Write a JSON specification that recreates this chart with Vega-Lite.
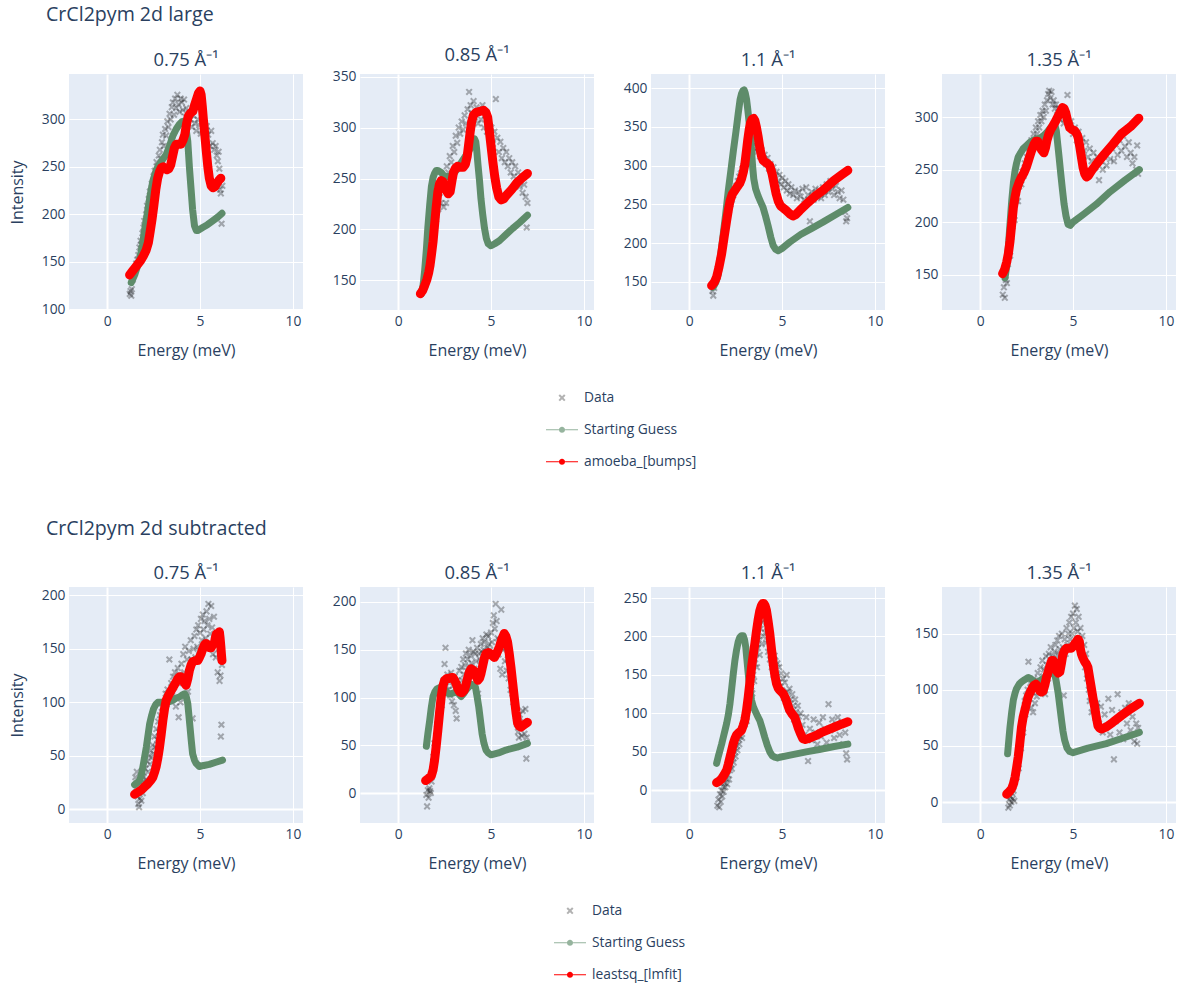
{
  "$schema": "https://vega.github.io/schema/vega-lite/v6.json",
  "background": "white",
  "padding": {"left": 9, "top": 4, "right": 5, "bottom": 5},
  "config": {
    "font": "Open Sans",
    "view": {"fill": "#E5ECF6", "stroke": null},
    "axis": {"domain": false, "ticks": false, "gridColor": "#ffffff", "labelColor": "#2a3f5f", "labelFontSize": 13.8, "titleColor": "#2a3f5f", "titleFontSize": 16, "titleFontWeight": "normal", "labelFlush": false},
    "axisX": {"labelPadding": 4, "titlePadding": 15},
    "axisY": {"labelPadding": 4, "titlePadding": 16},
    "title": {"fontSize": 18.4, "fontWeight": "normal", "color": "#2a3f5f", "anchor": "middle", "frame": "group", "offset": 5},
    "legend": {"labelColor": "#2a3f5f", "labelFontSize": 13.8, "labelOffset": 6, "rowPadding": 0, "symbolSize": 1024, "symbolStrokeWidth": 0}
  },
  "datasets": {
    "a1d": [{"e":1.22,"i":116},{"e":1.26,"i":119},{"e":1.3,"i":114},{"e":1.33,"i":121},{"e":1.38,"i":131},{"e":1.45,"i":138},{"e":1.5,"i":142},{"e":1.56,"i":148},{"e":1.62,"i":152},{"e":1.68,"i":157},{"e":1.74,"i":165},{"e":1.8,"i":172},{"e":1.85,"i":168},{"e":1.9,"i":180},{"e":1.96,"i":186},{"e":2.0,"i":193},{"e":2.05,"i":184},{"e":2.1,"i":200},{"e":2.15,"i":209},{"e":2.2,"i":203},{"e":2.24,"i":216},{"e":2.3,"i":224},{"e":2.35,"i":212},{"e":2.4,"i":232},{"e":2.45,"i":226},{"e":2.5,"i":240},{"e":2.56,"i":246},{"e":2.6,"i":236},{"e":2.66,"i":255},{"e":2.72,"i":250},{"e":2.78,"i":262},{"e":2.84,"i":268},{"e":2.9,"i":258},{"e":2.95,"i":276},{"e":3.0,"i":284},{"e":3.06,"i":272},{"e":3.12,"i":290},{"e":3.18,"i":283},{"e":3.24,"i":298},{"e":3.3,"i":292},{"e":3.36,"i":306},{"e":3.42,"i":300},{"e":3.48,"i":313},{"e":3.54,"i":318},{"e":3.6,"i":305},{"e":3.66,"i":322},{"e":3.72,"i":312},{"e":3.78,"i":326},{"e":3.84,"i":316},{"e":3.9,"i":308},{"e":3.96,"i":322},{"e":4.02,"i":318},{"e":4.08,"i":310},{"e":4.14,"i":321},{"e":4.2,"i":303},{"e":4.26,"i":312},{"e":4.32,"i":296},{"e":4.4,"i":307},{"e":4.48,"i":300},{"e":4.56,"i":292},{"e":4.64,"i":304},{"e":4.72,"i":296},{"e":4.8,"i":288},{"e":4.88,"i":300},{"e":4.96,"i":294},{"e":5.04,"i":285},{"e":5.12,"i":298},{"e":5.2,"i":290},{"e":5.28,"i":280},{"e":5.36,"i":293},{"e":5.44,"i":284},{"e":5.52,"i":272},{"e":5.6,"i":288},{"e":5.68,"i":275},{"e":5.76,"i":268},{"e":5.84,"i":272},{"e":5.9,"i":262},{"e":5.96,"i":256},{"e":6.0,"i":266},{"e":6.04,"i":248},{"e":6.08,"i":226},{"e":6.12,"i":222},{"e":6.16,"i":190},{"e":6.2,"i":230}],
    "a1g": [{"e":1.3,"i":128},{"e":1.5,"i":137},{"e":1.75,"i":152},{"e":1.9,"i":168},{"e":2.1,"i":193},{"e":2.3,"i":218},{"e":2.46,"i":235},{"e":2.65,"i":247},{"e":2.82,"i":253},{"e":3.0,"i":258},{"e":3.18,"i":263},{"e":3.36,"i":272},{"e":3.54,"i":283},{"e":3.72,"i":290},{"e":3.89,"i":295},{"e":4.05,"i":298},{"e":4.16,"i":298},{"e":4.25,"i":290},{"e":4.34,"i":277},{"e":4.43,"i":249},{"e":4.52,"i":226},{"e":4.6,"i":205},{"e":4.7,"i":188},{"e":4.8,"i":183},{"e":4.9,"i":183},{"e":5.14,"i":186},{"e":5.4,"i":189},{"e":5.68,"i":193},{"e":5.95,"i":197},{"e":6.18,"i":201}],
    "a1f": [{"e":1.21,"i":136},{"e":1.4,"i":141},{"e":1.6,"i":146},{"e":1.8,"i":151},{"e":1.95,"i":156},{"e":2.1,"i":162},{"e":2.22,"i":170},{"e":2.32,"i":182},{"e":2.42,"i":195},{"e":2.52,"i":210},{"e":2.62,"i":226},{"e":2.72,"i":238},{"e":2.82,"i":245},{"e":2.92,"i":249},{"e":3.02,"i":250},{"e":3.12,"i":248},{"e":3.22,"i":247},{"e":3.32,"i":248},{"e":3.42,"i":252},{"e":3.52,"i":261},{"e":3.62,"i":270},{"e":3.72,"i":274},{"e":3.85,"i":274},{"e":3.98,"i":274},{"e":4.08,"i":278},{"e":4.18,"i":284},{"e":4.28,"i":296},{"e":4.38,"i":304},{"e":4.5,"i":307},{"e":4.62,"i":309},{"e":4.72,"i":316},{"e":4.82,"i":322},{"e":4.92,"i":328},{"e":5.0,"i":330},{"e":5.06,"i":326},{"e":5.12,"i":314},{"e":5.18,"i":300},{"e":5.26,"i":283},{"e":5.34,"i":266},{"e":5.42,"i":250},{"e":5.5,"i":238},{"e":5.6,"i":230},{"e":5.7,"i":228},{"e":5.8,"i":229},{"e":5.92,"i":233},{"e":6.02,"i":236},{"e":6.12,"i":238}],
    "a2d": [{"e":1.22,"i":137},{"e":1.28,"i":140},{"e":1.35,"i":146},{"e":1.42,"i":152},{"e":1.5,"i":160},{"e":1.58,"i":170},{"e":1.65,"i":182},{"e":1.72,"i":192},{"e":1.8,"i":200},{"e":1.86,"i":212},{"e":1.92,"i":196},{"e":1.98,"i":222},{"e":2.04,"i":210},{"e":2.1,"i":228},{"e":2.16,"i":220},{"e":2.24,"i":236},{"e":2.3,"i":226},{"e":2.38,"i":244},{"e":2.45,"i":222},{"e":2.5,"i":252},{"e":2.54,"i":240},{"e":2.58,"i":226},{"e":2.62,"i":262},{"e":2.7,"i":256},{"e":2.78,"i":272},{"e":2.86,"i":266},{"e":2.94,"i":282},{"e":3.02,"i":276},{"e":3.1,"i":292},{"e":3.18,"i":285},{"e":3.26,"i":300},{"e":3.34,"i":294},{"e":3.42,"i":306},{"e":3.5,"i":298},{"e":3.58,"i":312},{"e":3.66,"i":304},{"e":3.74,"i":318},{"e":3.82,"i":335},{"e":3.9,"i":322},{"e":3.98,"i":314},{"e":4.06,"i":326},{"e":4.14,"i":310},{"e":4.22,"i":320},{"e":4.3,"i":304},{"e":4.38,"i":316},{"e":4.46,"i":308},{"e":4.54,"i":322},{"e":4.62,"i":300},{"e":4.7,"i":312},{"e":4.78,"i":296},{"e":4.86,"i":306},{"e":4.94,"i":290},{"e":5.02,"i":300},{"e":5.1,"i":284},{"e":5.18,"i":296},{"e":5.26,"i":328},{"e":5.34,"i":290},{"e":5.42,"i":276},{"e":5.5,"i":286},{"e":5.58,"i":270},{"e":5.66,"i":280},{"e":5.74,"i":266},{"e":5.82,"i":276},{"e":5.9,"i":262},{"e":5.98,"i":270},{"e":6.06,"i":256},{"e":6.14,"i":266},{"e":6.22,"i":252},{"e":6.3,"i":262},{"e":6.38,"i":246},{"e":6.46,"i":256},{"e":6.54,"i":242},{"e":6.62,"i":250},{"e":6.7,"i":236},{"e":6.78,"i":244},{"e":6.86,"i":232},{"e":6.92,"i":202},{"e":6.96,"i":226}],
    "a2g": [{"e":1.25,"i":137},{"e":1.35,"i":146},{"e":1.43,"i":160},{"e":1.52,"i":180},{"e":1.6,"i":202},{"e":1.7,"i":224},{"e":1.79,"i":242},{"e":1.88,"i":251},{"e":1.96,"i":255},{"e":2.05,"i":258},{"e":2.14,"i":258},{"e":2.23,"i":257},{"e":2.32,"i":256},{"e":2.45,"i":253},{"e":2.59,"i":252},{"e":2.72,"i":252},{"e":2.86,"i":253},{"e":3.0,"i":255},{"e":3.13,"i":258},{"e":3.3,"i":263},{"e":3.48,"i":268},{"e":3.66,"i":273},{"e":3.84,"i":278},{"e":3.98,"i":283},{"e":4.11,"i":289},{"e":4.18,"i":286},{"e":4.23,"i":278},{"e":4.3,"i":263},{"e":4.38,"i":248},{"e":4.46,"i":230},{"e":4.55,"i":215},{"e":4.65,"i":201},{"e":4.75,"i":191},{"e":4.85,"i":186},{"e":5.0,"i":184},{"e":5.2,"i":186},{"e":5.45,"i":189},{"e":5.8,"i":195},{"e":6.16,"i":201},{"e":6.55,"i":207},{"e":6.96,"i":214}],
    "a2f": [{"e":1.2,"i":137},{"e":1.32,"i":140},{"e":1.43,"i":145},{"e":1.55,"i":151},{"e":1.65,"i":158},{"e":1.72,"i":165},{"e":1.8,"i":176},{"e":1.88,"i":188},{"e":1.96,"i":204},{"e":2.05,"i":222},{"e":2.14,"i":237},{"e":2.23,"i":245},{"e":2.32,"i":248},{"e":2.41,"i":247},{"e":2.5,"i":243},{"e":2.6,"i":238},{"e":2.7,"i":235},{"e":2.8,"i":237},{"e":2.9,"i":248},{"e":2.98,"i":256},{"e":3.08,"i":260},{"e":3.2,"i":262},{"e":3.35,"i":261},{"e":3.5,"i":261},{"e":3.62,"i":264},{"e":3.72,"i":272},{"e":3.8,"i":284},{"e":3.88,"i":296},{"e":3.96,"i":306},{"e":4.05,"i":312},{"e":4.2,"i":315},{"e":4.4,"i":316},{"e":4.6,"i":317},{"e":4.72,"i":315},{"e":4.82,"i":310},{"e":4.9,"i":298},{"e":5.0,"i":282},{"e":5.1,"i":266},{"e":5.2,"i":252},{"e":5.3,"i":241},{"e":5.42,"i":232},{"e":5.55,"i":229},{"e":5.68,"i":230},{"e":5.85,"i":234},{"e":6.1,"i":239},{"e":6.4,"i":246},{"e":6.7,"i":251},{"e":6.96,"i":255}],
    "a3d": [{"e":1.25,"i":138},{"e":1.3,"i":132},{"e":1.35,"i":142},{"e":1.42,"i":150},{"e":1.5,"i":158},{"e":1.58,"i":166},{"e":1.66,"i":178},{"e":1.74,"i":190},{"e":1.82,"i":200},{"e":1.9,"i":212},{"e":1.98,"i":222},{"e":2.06,"i":232},{"e":2.14,"i":242},{"e":2.22,"i":250},{"e":2.3,"i":256},{"e":2.38,"i":262},{"e":2.46,"i":268},{"e":2.54,"i":274},{"e":2.62,"i":280},{"e":2.7,"i":286},{"e":2.78,"i":290},{"e":2.86,"i":296},{"e":2.94,"i":300},{"e":3.02,"i":306},{"e":3.1,"i":312},{"e":3.18,"i":318},{"e":3.26,"i":322},{"e":3.34,"i":326},{"e":3.42,"i":330},{"e":3.5,"i":322},{"e":3.58,"i":328},{"e":3.66,"i":318},{"e":3.74,"i":324},{"e":3.82,"i":312},{"e":3.9,"i":320},{"e":3.98,"i":306},{"e":4.06,"i":314},{"e":4.14,"i":302},{"e":4.22,"i":310},{"e":4.3,"i":296},{"e":4.38,"i":302},{"e":4.46,"i":290},{"e":4.54,"i":298},{"e":4.62,"i":286},{"e":4.7,"i":292},{"e":4.78,"i":280},{"e":4.86,"i":288},{"e":4.94,"i":276},{"e":5.02,"i":284},{"e":5.1,"i":272},{"e":5.18,"i":280},{"e":5.26,"i":268},{"e":5.34,"i":276},{"e":5.42,"i":264},{"e":5.5,"i":272},{"e":5.6,"i":262},{"e":5.7,"i":268},{"e":5.8,"i":258},{"e":5.9,"i":266},{"e":6.0,"i":260},{"e":6.1,"i":270},{"e":6.2,"i":256},{"e":6.3,"i":272},{"e":6.4,"i":262},{"e":6.5,"i":228},{"e":6.6,"i":266},{"e":6.7,"i":256},{"e":6.8,"i":270},{"e":6.9,"i":260},{"e":7.0,"i":268},{"e":7.1,"i":258},{"e":7.2,"i":272},{"e":7.3,"i":262},{"e":7.4,"i":276},{"e":7.5,"i":266},{"e":7.6,"i":280},{"e":7.7,"i":270},{"e":7.8,"i":262},{"e":7.9,"i":274},{"e":8.0,"i":266},{"e":8.1,"i":258},{"e":8.2,"i":268},{"e":8.3,"i":256},{"e":8.4,"i":240},{"e":8.45,"i":228},{"e":8.5,"i":232}],
    "a3g": [{"e":1.3,"i":143},{"e":1.45,"i":150},{"e":1.57,"i":160},{"e":1.7,"i":185},{"e":1.84,"i":212},{"e":1.98,"i":240},{"e":2.11,"i":268},{"e":2.25,"i":294},{"e":2.38,"i":319},{"e":2.52,"i":344},{"e":2.64,"i":367},{"e":2.74,"i":385},{"e":2.82,"i":393},{"e":2.9,"i":397},{"e":2.96,"i":398},{"e":3.02,"i":394},{"e":3.09,"i":386},{"e":3.16,"i":372},{"e":3.23,"i":356},{"e":3.3,"i":338},{"e":3.36,"i":319},{"e":3.42,"i":298},{"e":3.48,"i":283},{"e":3.58,"i":270},{"e":3.71,"i":261},{"e":3.85,"i":253},{"e":3.98,"i":246},{"e":4.1,"i":236},{"e":4.25,"i":222},{"e":4.4,"i":207},{"e":4.52,"i":197},{"e":4.65,"i":192},{"e":4.79,"i":190},{"e":5.0,"i":193},{"e":5.41,"i":201},{"e":6.0,"i":211},{"e":6.6,"i":219},{"e":7.2,"i":227},{"e":7.9,"i":237},{"e":8.54,"i":246}],
    "a3f": [{"e":1.21,"i":145},{"e":1.35,"i":149},{"e":1.48,"i":156},{"e":1.6,"i":168},{"e":1.75,"i":186},{"e":1.88,"i":207},{"e":2.02,"i":229},{"e":2.12,"i":244},{"e":2.2,"i":254},{"e":2.32,"i":263},{"e":2.46,"i":268},{"e":2.6,"i":273},{"e":2.72,"i":277},{"e":2.82,"i":283},{"e":2.92,"i":292},{"e":3.0,"i":302},{"e":3.08,"i":318},{"e":3.16,"i":334},{"e":3.23,"i":346},{"e":3.3,"i":355},{"e":3.39,"i":360},{"e":3.47,"i":361},{"e":3.54,"i":358},{"e":3.62,"i":350},{"e":3.71,"i":338},{"e":3.8,"i":324},{"e":3.89,"i":313},{"e":3.98,"i":307},{"e":4.07,"i":305},{"e":4.2,"i":303},{"e":4.34,"i":300},{"e":4.46,"i":290},{"e":4.56,"i":278},{"e":4.68,"i":264},{"e":4.8,"i":254},{"e":4.92,"i":248},{"e":5.08,"i":245},{"e":5.23,"i":242},{"e":5.4,"i":238},{"e":5.59,"i":235},{"e":5.75,"i":237},{"e":5.95,"i":242},{"e":6.3,"i":250},{"e":6.8,"i":261},{"e":7.2,"i":268},{"e":7.8,"i":281},{"e":8.2,"i":288},{"e":8.54,"i":294}],
    "a4d": [{"e":1.22,"i":131},{"e":1.28,"i":138},{"e":1.33,"i":128},{"e":1.38,"i":145},{"e":1.44,"i":142},{"e":1.5,"i":160},{"e":1.56,"i":172},{"e":1.62,"i":168},{"e":1.68,"i":186},{"e":1.74,"i":196},{"e":1.8,"i":208},{"e":1.86,"i":202},{"e":1.92,"i":220},{"e":1.98,"i":228},{"e":2.04,"i":220},{"e":2.1,"i":234},{"e":2.16,"i":240},{"e":2.22,"i":236},{"e":2.28,"i":248},{"e":2.34,"i":244},{"e":2.4,"i":256},{"e":2.46,"i":250},{"e":2.52,"i":262},{"e":2.58,"i":258},{"e":2.64,"i":270},{"e":2.7,"i":266},{"e":2.76,"i":278},{"e":2.82,"i":272},{"e":2.88,"i":284},{"e":2.94,"i":278},{"e":3.0,"i":290},{"e":3.06,"i":284},{"e":3.12,"i":296},{"e":3.18,"i":290},{"e":3.24,"i":302},{"e":3.3,"i":296},{"e":3.36,"i":306},{"e":3.42,"i":300},{"e":3.48,"i":312},{"e":3.54,"i":306},{"e":3.6,"i":316},{"e":3.66,"i":322},{"e":3.72,"i":325},{"e":3.78,"i":318},{"e":3.84,"i":324},{"e":3.9,"i":312},{"e":3.96,"i":316},{"e":4.02,"i":308},{"e":4.08,"i":312},{"e":4.14,"i":302},{"e":4.2,"i":308},{"e":4.3,"i":298},{"e":4.4,"i":304},{"e":4.5,"i":294},{"e":4.6,"i":300},{"e":4.7,"i":321},{"e":4.8,"i":290},{"e":4.9,"i":296},{"e":5.0,"i":284},{"e":5.1,"i":290},{"e":5.2,"i":278},{"e":5.3,"i":286},{"e":5.4,"i":272},{"e":5.5,"i":280},{"e":5.6,"i":268},{"e":5.7,"i":276},{"e":5.8,"i":262},{"e":5.9,"i":270},{"e":6.0,"i":258},{"e":6.1,"i":266},{"e":6.2,"i":252},{"e":6.3,"i":262},{"e":6.4,"i":240},{"e":6.5,"i":258},{"e":6.6,"i":250},{"e":6.7,"i":262},{"e":6.8,"i":254},{"e":6.9,"i":268},{"e":7.0,"i":260},{"e":7.1,"i":270},{"e":7.2,"i":258},{"e":7.3,"i":274},{"e":7.4,"i":264},{"e":7.5,"i":278},{"e":7.6,"i":268},{"e":7.7,"i":282},{"e":7.8,"i":272},{"e":7.9,"i":262},{"e":8.0,"i":276},{"e":8.1,"i":266},{"e":8.2,"i":256},{"e":8.3,"i":262},{"e":8.4,"i":250},{"e":8.45,"i":273},{"e":8.5,"i":246}],
    "a4g": [{"e":1.34,"i":147},{"e":1.43,"i":158},{"e":1.52,"i":176},{"e":1.6,"i":196},{"e":1.7,"i":220},{"e":1.79,"i":237},{"e":1.88,"i":249},{"e":1.96,"i":256},{"e":2.05,"i":262},{"e":2.18,"i":266},{"e":2.32,"i":270},{"e":2.5,"i":273},{"e":2.68,"i":276},{"e":2.86,"i":278},{"e":3.04,"i":279},{"e":3.22,"i":280},{"e":3.39,"i":282},{"e":3.57,"i":285},{"e":3.75,"i":289},{"e":3.9,"i":292},{"e":4.02,"i":293},{"e":4.1,"i":287},{"e":4.16,"i":277},{"e":4.25,"i":262},{"e":4.34,"i":246},{"e":4.43,"i":231},{"e":4.52,"i":217},{"e":4.62,"i":206},{"e":4.73,"i":198},{"e":4.85,"i":197},{"e":5.0,"i":200},{"e":5.6,"i":208},{"e":6.25,"i":217},{"e":7.0,"i":229},{"e":7.8,"i":240},{"e":8.57,"i":250}],
    "a4f": [{"e":1.21,"i":151},{"e":1.32,"i":155},{"e":1.43,"i":162},{"e":1.52,"i":170},{"e":1.61,"i":182},{"e":1.7,"i":198},{"e":1.79,"i":214},{"e":1.88,"i":224},{"e":1.96,"i":231},{"e":2.1,"i":238},{"e":2.23,"i":243},{"e":2.36,"i":247},{"e":2.5,"i":253},{"e":2.64,"i":261},{"e":2.77,"i":268},{"e":2.9,"i":274},{"e":3.0,"i":277},{"e":3.1,"i":277},{"e":3.18,"i":274},{"e":3.3,"i":269},{"e":3.43,"i":266},{"e":3.52,"i":271},{"e":3.6,"i":278},{"e":3.7,"i":284},{"e":3.8,"i":288},{"e":3.93,"i":292},{"e":4.06,"i":296},{"e":4.2,"i":301},{"e":4.32,"i":305},{"e":4.43,"i":309},{"e":4.52,"i":308},{"e":4.61,"i":304},{"e":4.7,"i":297},{"e":4.82,"i":290},{"e":4.95,"i":288},{"e":5.09,"i":287},{"e":5.2,"i":284},{"e":5.27,"i":281},{"e":5.36,"i":272},{"e":5.45,"i":262},{"e":5.54,"i":252},{"e":5.63,"i":246},{"e":5.72,"i":243},{"e":5.82,"i":244},{"e":6.0,"i":249},{"e":6.25,"i":255},{"e":6.7,"i":265},{"e":7.14,"i":274},{"e":7.6,"i":284},{"e":8.1,"i":291},{"e":8.54,"i":299}],
    "b1d": [{"e":1.52,"i":30},{"e":1.56,"i":20},{"e":1.6,"i":35},{"e":1.64,"i":12},{"e":1.68,"i":5},{"e":1.72,"i":2},{"e":1.76,"i":10},{"e":1.8,"i":18},{"e":1.84,"i":8},{"e":1.88,"i":25},{"e":1.92,"i":15},{"e":1.96,"i":30},{"e":2.0,"i":22},{"e":2.05,"i":38},{"e":2.1,"i":28},{"e":2.15,"i":45},{"e":2.2,"i":35},{"e":2.25,"i":50},{"e":2.3,"i":42},{"e":2.35,"i":55},{"e":2.4,"i":48},{"e":2.45,"i":60},{"e":2.5,"i":52},{"e":2.55,"i":68},{"e":2.6,"i":58},{"e":2.65,"i":75},{"e":2.7,"i":65},{"e":2.75,"i":82},{"e":2.8,"i":72},{"e":2.85,"i":88},{"e":2.9,"i":78},{"e":2.95,"i":95},{"e":3.0,"i":85},{"e":3.05,"i":100},{"e":3.1,"i":92},{"e":3.15,"i":108},{"e":3.2,"i":98},{"e":3.25,"i":112},{"e":3.3,"i":104},{"e":3.35,"i":140},{"e":3.4,"i":110},{"e":3.45,"i":118},{"e":3.5,"i":106},{"e":3.55,"i":124},{"e":3.6,"i":114},{"e":3.65,"i":128},{"e":3.7,"i":96},{"e":3.75,"i":120},{"e":3.8,"i":132},{"e":3.85,"i":86},{"e":3.9,"i":126},{"e":3.95,"i":100},{"e":4.0,"i":136},{"e":4.05,"i":118},{"e":4.1,"i":145},{"e":4.15,"i":128},{"e":4.2,"i":152},{"e":4.25,"i":120},{"e":4.3,"i":140},{"e":4.35,"i":110},{"e":4.4,"i":148},{"e":4.45,"i":130},{"e":4.5,"i":158},{"e":4.55,"i":140},{"e":4.6,"i":85},{"e":4.65,"i":150},{"e":4.7,"i":162},{"e":4.75,"i":142},{"e":4.8,"i":168},{"e":4.85,"i":152},{"e":4.9,"i":172},{"e":4.95,"i":148},{"e":5.0,"i":165},{"e":5.05,"i":178},{"e":5.1,"i":158},{"e":5.15,"i":182},{"e":5.2,"i":168},{"e":5.25,"i":176},{"e":5.3,"i":160},{"e":5.35,"i":185},{"e":5.4,"i":172},{"e":5.45,"i":192},{"e":5.5,"i":178},{"e":5.55,"i":164},{"e":5.6,"i":190},{"e":5.65,"i":170},{"e":5.7,"i":145},{"e":5.75,"i":180},{"e":5.8,"i":160},{"e":5.85,"i":142},{"e":5.9,"i":155},{"e":5.95,"i":128},{"e":6.0,"i":150},{"e":6.05,"i":120},{"e":6.1,"i":125},{"e":6.12,"i":68},{"e":6.15,"i":79},{"e":6.18,"i":135}],
    "b1g": [{"e":1.48,"i":23},{"e":1.62,"i":25},{"e":1.75,"i":27},{"e":1.84,"i":32},{"e":1.93,"i":40},{"e":2.02,"i":49},{"e":2.11,"i":58},{"e":2.2,"i":69},{"e":2.29,"i":80},{"e":2.4,"i":88},{"e":2.5,"i":94},{"e":2.62,"i":98},{"e":2.73,"i":100},{"e":2.86,"i":100},{"e":3.0,"i":100},{"e":3.27,"i":100},{"e":3.54,"i":102},{"e":3.72,"i":104},{"e":3.89,"i":105},{"e":4.05,"i":107},{"e":4.16,"i":108},{"e":4.25,"i":106},{"e":4.34,"i":99},{"e":4.4,"i":88},{"e":4.46,"i":77},{"e":4.53,"i":64},{"e":4.6,"i":52},{"e":4.7,"i":46},{"e":4.79,"i":43},{"e":4.96,"i":40},{"e":5.2,"i":41},{"e":5.5,"i":42},{"e":5.85,"i":44},{"e":6.21,"i":46}],
    "b1f": [{"e":1.48,"i":14},{"e":1.66,"i":16},{"e":1.84,"i":18},{"e":2.02,"i":21},{"e":2.2,"i":24},{"e":2.35,"i":27},{"e":2.46,"i":30},{"e":2.56,"i":35},{"e":2.64,"i":40},{"e":2.73,"i":48},{"e":2.82,"i":58},{"e":2.91,"i":70},{"e":3.0,"i":83},{"e":3.09,"i":94},{"e":3.18,"i":102},{"e":3.32,"i":107},{"e":3.45,"i":111},{"e":3.58,"i":115},{"e":3.71,"i":119},{"e":3.8,"i":122},{"e":3.89,"i":124},{"e":3.98,"i":124},{"e":4.07,"i":122},{"e":4.16,"i":118},{"e":4.25,"i":116},{"e":4.34,"i":122},{"e":4.43,"i":130},{"e":4.52,"i":135},{"e":4.61,"i":138},{"e":4.75,"i":139},{"e":4.88,"i":139},{"e":4.97,"i":142},{"e":5.05,"i":145},{"e":5.15,"i":150},{"e":5.24,"i":154},{"e":5.32,"i":155},{"e":5.42,"i":154},{"e":5.52,"i":151},{"e":5.6,"i":151},{"e":5.68,"i":154},{"e":5.77,"i":155},{"e":5.82,"i":160},{"e":5.88,"i":164},{"e":5.95,"i":161},{"e":6.0,"i":164},{"e":6.04,"i":166},{"e":6.08,"i":160},{"e":6.12,"i":152},{"e":6.15,"i":145},{"e":6.18,"i":139}],
    "b2d": [{"e":1.52,"i":-2},{"e":1.56,"i":-14},{"e":1.6,"i":3},{"e":1.64,"i":-5},{"e":1.68,"i":5},{"e":1.72,"i":2},{"e":1.76,"i":0},{"e":1.8,"i":12},{"e":1.85,"i":25},{"e":1.9,"i":38},{"e":1.95,"i":52},{"e":2.0,"i":45},{"e":2.05,"i":60},{"e":2.1,"i":72},{"e":2.15,"i":65},{"e":2.2,"i":80},{"e":2.25,"i":88},{"e":2.3,"i":96},{"e":2.35,"i":92},{"e":2.4,"i":105},{"e":2.45,"i":118},{"e":2.5,"i":135},{"e":2.55,"i":152},{"e":2.6,"i":112},{"e":2.65,"i":124},{"e":2.7,"i":108},{"e":2.75,"i":118},{"e":2.8,"i":102},{"e":2.85,"i":126},{"e":2.9,"i":96},{"e":2.95,"i":112},{"e":3.0,"i":92},{"e":3.05,"i":122},{"e":3.1,"i":86},{"e":3.15,"i":78},{"e":3.2,"i":118},{"e":3.25,"i":108},{"e":3.3,"i":128},{"e":3.35,"i":112},{"e":3.4,"i":132},{"e":3.45,"i":118},{"e":3.5,"i":140},{"e":3.55,"i":124},{"e":3.6,"i":134},{"e":3.65,"i":146},{"e":3.7,"i":128},{"e":3.75,"i":140},{"e":3.8,"i":150},{"e":3.85,"i":132},{"e":3.9,"i":144},{"e":3.95,"i":136},{"e":4.0,"i":160},{"e":4.05,"i":148},{"e":4.1,"i":130},{"e":4.15,"i":146},{"e":4.2,"i":138},{"e":4.25,"i":152},{"e":4.3,"i":104},{"e":4.35,"i":146},{"e":4.4,"i":140},{"e":4.45,"i":156},{"e":4.5,"i":148},{"e":4.55,"i":162},{"e":4.6,"i":150},{"e":4.65,"i":158},{"e":4.7,"i":145},{"e":4.75,"i":166},{"e":4.8,"i":152},{"e":4.85,"i":164},{"e":4.9,"i":156},{"e":4.95,"i":150},{"e":5.0,"i":168},{"e":5.05,"i":158},{"e":5.1,"i":178},{"e":5.15,"i":186},{"e":5.2,"i":172},{"e":5.25,"i":198},{"e":5.3,"i":180},{"e":5.35,"i":162},{"e":5.4,"i":145},{"e":5.45,"i":160},{"e":5.5,"i":130},{"e":5.55,"i":192},{"e":5.6,"i":124},{"e":5.65,"i":150},{"e":5.7,"i":160},{"e":5.75,"i":138},{"e":5.8,"i":152},{"e":5.85,"i":128},{"e":5.9,"i":140},{"e":5.95,"i":120},{"e":6.0,"i":132},{"e":6.05,"i":108},{"e":6.1,"i":122},{"e":6.15,"i":104},{"e":6.2,"i":95},{"e":6.25,"i":106},{"e":6.3,"i":85},{"e":6.35,"i":80},{"e":6.4,"i":72},{"e":6.45,"i":64},{"e":6.5,"i":58},{"e":6.55,"i":82},{"e":6.6,"i":70},{"e":6.65,"i":60},{"e":6.7,"i":86},{"e":6.75,"i":75},{"e":6.8,"i":62},{"e":6.85,"i":88},{"e":6.9,"i":36},{"e":6.92,"i":58}],
    "b2g": [{"e":1.52,"i":49},{"e":1.6,"i":62},{"e":1.7,"i":76},{"e":1.79,"i":90},{"e":1.88,"i":101},{"e":1.98,"i":106},{"e":2.09,"i":109},{"e":2.2,"i":110},{"e":2.32,"i":111},{"e":2.45,"i":109},{"e":2.59,"i":106},{"e":2.72,"i":104},{"e":2.86,"i":104},{"e":3.0,"i":105},{"e":3.13,"i":106},{"e":3.26,"i":104},{"e":3.39,"i":101},{"e":3.52,"i":104},{"e":3.66,"i":108},{"e":3.8,"i":111},{"e":3.93,"i":114},{"e":4.05,"i":113},{"e":4.16,"i":111},{"e":4.25,"i":101},{"e":4.34,"i":90},{"e":4.43,"i":76},{"e":4.52,"i":62},{"e":4.62,"i":52},{"e":4.73,"i":45},{"e":4.85,"i":42},{"e":5.0,"i":40},{"e":5.4,"i":42},{"e":5.8,"i":45},{"e":6.4,"i":48},{"e":6.96,"i":52}],
    "b2f": [{"e":1.48,"i":13},{"e":1.62,"i":15},{"e":1.79,"i":18},{"e":1.88,"i":24},{"e":1.96,"i":34},{"e":2.05,"i":49},{"e":2.14,"i":66},{"e":2.23,"i":84},{"e":2.32,"i":101},{"e":2.41,"i":112},{"e":2.5,"i":118},{"e":2.62,"i":120},{"e":2.77,"i":120},{"e":2.86,"i":121},{"e":2.95,"i":121},{"e":3.04,"i":118},{"e":3.13,"i":114},{"e":3.22,"i":109},{"e":3.3,"i":106},{"e":3.43,"i":105},{"e":3.57,"i":108},{"e":3.66,"i":114},{"e":3.75,"i":121},{"e":3.84,"i":127},{"e":3.93,"i":130},{"e":4.02,"i":129},{"e":4.11,"i":127},{"e":4.2,"i":122},{"e":4.29,"i":118},{"e":4.38,"i":120},{"e":4.46,"i":125},{"e":4.56,"i":134},{"e":4.64,"i":141},{"e":4.73,"i":146},{"e":4.85,"i":147},{"e":4.95,"i":146},{"e":5.05,"i":144},{"e":5.18,"i":142},{"e":5.3,"i":146},{"e":5.45,"i":153},{"e":5.58,"i":161},{"e":5.71,"i":167},{"e":5.8,"i":164},{"e":5.89,"i":158},{"e":5.98,"i":146},{"e":6.07,"i":132},{"e":6.16,"i":116},{"e":6.25,"i":100},{"e":6.34,"i":85},{"e":6.43,"i":73},{"e":6.52,"i":70},{"e":6.61,"i":69},{"e":6.75,"i":71},{"e":6.96,"i":74}],
    "b3d": [{"e":1.52,"i":-20},{"e":1.58,"i":-12},{"e":1.62,"i":-22},{"e":1.66,"i":-5},{"e":1.7,"i":-15},{"e":1.74,"i":0},{"e":1.78,"i":-8},{"e":1.82,"i":5},{"e":1.86,"i":-2},{"e":1.9,"i":10},{"e":1.95,"i":4},{"e":2.0,"i":15},{"e":2.05,"i":8},{"e":2.1,"i":20},{"e":2.15,"i":14},{"e":2.2,"i":26},{"e":2.25,"i":34},{"e":2.3,"i":28},{"e":2.35,"i":42},{"e":2.4,"i":36},{"e":2.45,"i":50},{"e":2.5,"i":44},{"e":2.55,"i":58},{"e":2.6,"i":52},{"e":2.65,"i":66},{"e":2.7,"i":60},{"e":2.75,"i":70},{"e":2.8,"i":78},{"e":2.85,"i":68},{"e":2.9,"i":84},{"e":2.95,"i":92},{"e":3.0,"i":86},{"e":3.05,"i":98},{"e":3.1,"i":90},{"e":3.15,"i":104},{"e":3.2,"i":118},{"e":3.25,"i":108},{"e":3.3,"i":122},{"e":3.35,"i":135},{"e":3.4,"i":126},{"e":3.45,"i":150},{"e":3.5,"i":142},{"e":3.55,"i":165},{"e":3.6,"i":178},{"e":3.65,"i":160},{"e":3.7,"i":185},{"e":3.75,"i":196},{"e":3.8,"i":176},{"e":3.85,"i":210},{"e":3.9,"i":190},{"e":3.95,"i":218},{"e":4.0,"i":200},{"e":4.05,"i":222},{"e":4.1,"i":205},{"e":4.15,"i":192},{"e":4.2,"i":212},{"e":4.25,"i":180},{"e":4.3,"i":196},{"e":4.35,"i":170},{"e":4.4,"i":188},{"e":4.45,"i":160},{"e":4.5,"i":178},{"e":4.55,"i":150},{"e":4.6,"i":175},{"e":4.65,"i":168},{"e":4.7,"i":148},{"e":4.75,"i":165},{"e":4.8,"i":140},{"e":4.85,"i":160},{"e":4.9,"i":135},{"e":4.95,"i":152},{"e":5.0,"i":130},{"e":5.05,"i":145},{"e":5.1,"i":120},{"e":5.15,"i":140},{"e":5.2,"i":115},{"e":5.25,"i":150},{"e":5.3,"i":128},{"e":5.35,"i":105},{"e":5.4,"i":132},{"e":5.45,"i":118},{"e":5.5,"i":100},{"e":5.55,"i":125},{"e":5.6,"i":110},{"e":5.65,"i":92},{"e":5.7,"i":118},{"e":5.75,"i":102},{"e":5.8,"i":88},{"e":5.85,"i":110},{"e":5.9,"i":96},{"e":5.95,"i":80},{"e":6.0,"i":100},{"e":6.1,"i":85},{"e":6.2,"i":72},{"e":6.3,"i":95},{"e":6.4,"i":38},{"e":6.5,"i":80},{"e":6.6,"i":65},{"e":6.7,"i":92},{"e":6.8,"i":75},{"e":6.9,"i":60},{"e":7.0,"i":88},{"e":7.1,"i":70},{"e":7.2,"i":95},{"e":7.3,"i":80},{"e":7.4,"i":62},{"e":7.5,"i":112},{"e":7.6,"i":78},{"e":7.7,"i":92},{"e":7.8,"i":68},{"e":7.9,"i":85},{"e":8.0,"i":95},{"e":8.1,"i":72},{"e":8.2,"i":88},{"e":8.3,"i":60},{"e":8.4,"i":75},{"e":8.45,"i":48},{"e":8.5,"i":40}],
    "b3g": [{"e":1.48,"i":35},{"e":1.57,"i":44},{"e":1.66,"i":52},{"e":1.75,"i":60},{"e":1.84,"i":69},{"e":1.93,"i":78},{"e":2.02,"i":87},{"e":2.11,"i":98},{"e":2.2,"i":113},{"e":2.29,"i":132},{"e":2.38,"i":152},{"e":2.46,"i":168},{"e":2.55,"i":182},{"e":2.64,"i":193},{"e":2.73,"i":199},{"e":2.82,"i":201},{"e":2.91,"i":201},{"e":2.98,"i":196},{"e":3.05,"i":186},{"e":3.11,"i":170},{"e":3.18,"i":152},{"e":3.26,"i":133},{"e":3.36,"i":117},{"e":3.45,"i":109},{"e":3.54,"i":104},{"e":3.67,"i":97},{"e":3.8,"i":91},{"e":3.94,"i":80},{"e":4.07,"i":69},{"e":4.2,"i":59},{"e":4.34,"i":50},{"e":4.47,"i":45},{"e":4.61,"i":43},{"e":4.75,"i":42},{"e":4.88,"i":43},{"e":5.5,"i":46},{"e":6.3,"i":50},{"e":7.0,"i":53},{"e":7.8,"i":57},{"e":8.54,"i":60}],
    "b3f": [{"e":1.48,"i":10},{"e":1.62,"i":12},{"e":1.75,"i":15},{"e":1.88,"i":20},{"e":2.02,"i":26},{"e":2.11,"i":34},{"e":2.2,"i":43},{"e":2.29,"i":52},{"e":2.38,"i":61},{"e":2.46,"i":67},{"e":2.55,"i":72},{"e":2.68,"i":75},{"e":2.82,"i":78},{"e":2.91,"i":84},{"e":3.0,"i":91},{"e":3.09,"i":104},{"e":3.18,"i":121},{"e":3.27,"i":140},{"e":3.36,"i":160},{"e":3.45,"i":176},{"e":3.54,"i":191},{"e":3.62,"i":206},{"e":3.71,"i":221},{"e":3.8,"i":233},{"e":3.89,"i":240},{"e":3.96,"i":243},{"e":4.02,"i":243},{"e":4.09,"i":240},{"e":4.16,"i":234},{"e":4.25,"i":220},{"e":4.34,"i":204},{"e":4.43,"i":184},{"e":4.52,"i":165},{"e":4.61,"i":150},{"e":4.7,"i":139},{"e":4.79,"i":133},{"e":4.88,"i":130},{"e":4.97,"i":128},{"e":5.05,"i":126},{"e":5.14,"i":122},{"e":5.23,"i":117},{"e":5.32,"i":110},{"e":5.41,"i":104},{"e":5.55,"i":99},{"e":5.68,"i":95},{"e":5.77,"i":89},{"e":5.86,"i":82},{"e":5.99,"i":74},{"e":6.12,"i":67},{"e":6.25,"i":66},{"e":6.39,"i":67},{"e":6.8,"i":71},{"e":7.2,"i":76},{"e":7.8,"i":82},{"e":8.2,"i":86},{"e":8.54,"i":89}],
    "b4d": [{"e":1.52,"i":-5},{"e":1.56,"i":2},{"e":1.6,"i":-3},{"e":1.64,"i":5},{"e":1.68,"i":0},{"e":1.72,"i":8},{"e":1.76,"i":3},{"e":1.8,"i":10},{"e":1.84,"i":1},{"e":1.88,"i":18},{"e":1.92,"i":28},{"e":1.96,"i":22},{"e":2.0,"i":35},{"e":2.04,"i":42},{"e":2.08,"i":30},{"e":2.12,"i":52},{"e":2.16,"i":60},{"e":2.2,"i":48},{"e":2.24,"i":68},{"e":2.28,"i":75},{"e":2.32,"i":62},{"e":2.36,"i":82},{"e":2.4,"i":90},{"e":2.44,"i":78},{"e":2.48,"i":95},{"e":2.52,"i":86},{"e":2.56,"i":100},{"e":2.6,"i":125},{"e":2.65,"i":92},{"e":2.7,"i":106},{"e":2.75,"i":84},{"e":2.8,"i":98},{"e":2.85,"i":80},{"e":2.9,"i":110},{"e":2.95,"i":88},{"e":3.0,"i":102},{"e":3.05,"i":94},{"e":3.1,"i":115},{"e":3.15,"i":98},{"e":3.2,"i":108},{"e":3.25,"i":120},{"e":3.3,"i":104},{"e":3.35,"i":126},{"e":3.4,"i":112},{"e":3.45,"i":118},{"e":3.5,"i":96},{"e":3.55,"i":130},{"e":3.6,"i":122},{"e":3.65,"i":110},{"e":3.7,"i":132},{"e":3.75,"i":124},{"e":3.8,"i":138},{"e":3.85,"i":116},{"e":3.9,"i":130},{"e":3.95,"i":124},{"e":4.0,"i":134},{"e":4.05,"i":140},{"e":4.1,"i":128},{"e":4.15,"i":144},{"e":4.2,"i":132},{"e":4.25,"i":148},{"e":4.3,"i":136},{"e":4.35,"i":120},{"e":4.4,"i":150},{"e":4.45,"i":138},{"e":4.5,"i":95},{"e":4.55,"i":145},{"e":4.6,"i":132},{"e":4.65,"i":155},{"e":4.7,"i":140},{"e":4.75,"i":150},{"e":4.8,"i":160},{"e":4.85,"i":145},{"e":4.9,"i":165},{"e":4.95,"i":150},{"e":5.0,"i":168},{"e":5.05,"i":155},{"e":5.1,"i":175},{"e":5.15,"i":160},{"e":5.2,"i":172},{"e":5.25,"i":152},{"e":5.3,"i":165},{"e":5.35,"i":145},{"e":5.4,"i":155},{"e":5.45,"i":138},{"e":5.5,"i":148},{"e":5.55,"i":128},{"e":5.6,"i":140},{"e":5.65,"i":120},{"e":5.7,"i":132},{"e":5.75,"i":110},{"e":5.8,"i":118},{"e":5.85,"i":100},{"e":5.9,"i":90},{"e":5.95,"i":98},{"e":6.0,"i":80},{"e":6.1,"i":94},{"e":6.2,"i":75},{"e":6.3,"i":88},{"e":6.4,"i":70},{"e":6.5,"i":85},{"e":6.6,"i":62},{"e":6.7,"i":78},{"e":6.8,"i":68},{"e":6.9,"i":92},{"e":7.0,"i":60},{"e":7.1,"i":82},{"e":7.2,"i":38},{"e":7.3,"i":72},{"e":7.4,"i":96},{"e":7.5,"i":62},{"e":7.6,"i":80},{"e":7.7,"i":56},{"e":7.8,"i":84},{"e":7.9,"i":70},{"e":8.0,"i":88},{"e":8.1,"i":64},{"e":8.2,"i":76},{"e":8.3,"i":54},{"e":8.4,"i":70},{"e":8.45,"i":52},{"e":8.5,"i":66}],
    "b4g": [{"e":1.48,"i":43},{"e":1.55,"i":56},{"e":1.61,"i":67},{"e":1.7,"i":80},{"e":1.79,"i":91},{"e":1.88,"i":97},{"e":1.96,"i":101},{"e":2.1,"i":105},{"e":2.23,"i":107},{"e":2.4,"i":109},{"e":2.59,"i":111},{"e":2.72,"i":110},{"e":2.86,"i":108},{"e":3.0,"i":107},{"e":3.13,"i":107},{"e":3.3,"i":109},{"e":3.48,"i":111},{"e":3.66,"i":113},{"e":3.84,"i":116},{"e":3.95,"i":116},{"e":4.02,"i":114},{"e":4.1,"i":107},{"e":4.2,"i":97},{"e":4.29,"i":85},{"e":4.38,"i":73},{"e":4.46,"i":63},{"e":4.55,"i":55},{"e":4.68,"i":48},{"e":4.82,"i":45},{"e":5.0,"i":44},{"e":5.8,"i":48},{"e":6.79,"i":52},{"e":7.7,"i":57},{"e":8.57,"i":62}],
    "b4f": [{"e":1.43,"i":7},{"e":1.56,"i":9},{"e":1.7,"i":12},{"e":1.79,"i":16},{"e":1.88,"i":22},{"e":1.96,"i":30},{"e":2.05,"i":40},{"e":2.14,"i":53},{"e":2.23,"i":67},{"e":2.32,"i":76},{"e":2.41,"i":82},{"e":2.5,"i":88},{"e":2.59,"i":94},{"e":2.7,"i":98},{"e":2.82,"i":102},{"e":2.91,"i":104},{"e":3.0,"i":105},{"e":3.1,"i":103},{"e":3.21,"i":99},{"e":3.3,"i":98},{"e":3.39,"i":99},{"e":3.48,"i":104},{"e":3.57,"i":111},{"e":3.68,"i":117},{"e":3.79,"i":123},{"e":3.86,"i":126},{"e":3.93,"i":126},{"e":4.02,"i":122},{"e":4.11,"i":117},{"e":4.2,"i":115},{"e":4.29,"i":116},{"e":4.38,"i":124},{"e":4.46,"i":132},{"e":4.55,"i":135},{"e":4.64,"i":137},{"e":4.78,"i":137},{"e":4.91,"i":137},{"e":5.05,"i":140},{"e":5.18,"i":143},{"e":5.27,"i":145},{"e":5.34,"i":143},{"e":5.4,"i":136},{"e":5.45,"i":132},{"e":5.54,"i":128},{"e":5.63,"i":125},{"e":5.72,"i":123},{"e":5.8,"i":120},{"e":5.89,"i":111},{"e":5.98,"i":102},{"e":6.07,"i":93},{"e":6.16,"i":85},{"e":6.25,"i":76},{"e":6.34,"i":68},{"e":6.43,"i":66},{"e":6.52,"i":65},{"e":6.8,"i":67},{"e":7.14,"i":71},{"e":7.6,"i":77},{"e":8.1,"i":83},{"e":8.57,"i":88}]
  },
  "vconcat": [
    {
      "title": {"text": "CrCl2pym 2d large", "anchor": "start", "fontSize": 19.6, "offset": 21, "dx": -23},
      "bounds": "flush",
      "spacing": 57,
      "hconcat": [
        {
          "title": "0.75 Å⁻¹", "width": 234, "height": 236,
          "encoding": {
            "x": {"field": "e", "type": "quantitative", "scale": {"domain": [-2.05, 10.54], "nice": false, "zero": false}, "axis": {"title": "Energy (meV)", "values": [0, 5, 10], "gridWidth": {"condition": {"test": "datum.value === 0", "value": 2}, "value": 1}}},
            "y": {"field": "i", "type": "quantitative", "scale": {"domain": [99, 348], "nice": false, "zero": false}, "axis": {"title": "Intensity", "values": [100, 150, 200, 250, 300]}}
          },
          "layer": [
            {"data": {"name": "a1d"}, "mark": {"type": "point", "filled": true, "size": 1024},
             "encoding": {
               "color": {"datum": "Data", "type": "nominal", "scale": {"domain": ["Data", "Starting Guess", "amoeba_[bumps]"], "range": ["#000000", "#5e8c6a", "#ff0000"]},
                 "legend": {"title": null, "orient": "none", "legendX": 477, "legendY": 308, "direction": "vertical", "rowPadding": 0, "symbolSize": 1024, "clipHeight": 31.6, "symbolStrokeWidth": 0}},
               "shape": {"datum": "Data", "type": "nominal", "scale": {"domain": ["Data", "Starting Guess", "amoeba_[bumps]"], "range": ["M-0.22,-0.13L-0.13,-0.22L0,-0.09L0.13,-0.22L0.22,-0.13L0.09,0L0.22,0.13L0.13,0.22L0,0.09L-0.13,0.22L-0.22,0.13L-0.09,0Z", "M-1,-0.03L-0.19,-0.03L-0.19,0.03L-1,0.03ZM0.19,-0.03L1,-0.03L1,0.03L0.19,0.03ZM-0.19,0A0.19,0.19,0,1,1,0.19,0A0.19,0.19,0,1,1,-0.19,0Z", "M-1,-0.03L-0.19,-0.03L-0.19,0.03L-1,0.03ZM0.19,-0.03L1,-0.03L1,0.03L0.19,0.03ZM-0.19,0A0.19,0.19,0,1,1,0.19,0A0.19,0.19,0,1,1,-0.19,0Z"]},
                 "legend": {"title": null, "orient": "none", "legendX": 477, "legendY": 308, "direction": "vertical", "rowPadding": 0, "symbolSize": 1024, "clipHeight": 31.6, "symbolStrokeWidth": 0}},
               "opacity": {"datum": "Data", "type": "nominal", "scale": {"domain": ["Data", "Starting Guess", "amoeba_[bumps]"], "range": [0.3, 1, 1]},
                 "legend": {"title": null, "orient": "none", "legendX": 477, "legendY": 308, "direction": "vertical", "rowPadding": 0, "symbolSize": 1024, "clipHeight": 31.6, "symbolStrokeWidth": 0}}
             }},
            {"data": {"name": "a1g"}, "mark": {"type": "line", "color": "#5e8c6a", "strokeWidth": 7, "strokeCap": "round", "strokeJoin": "round"}, "encoding": {}},
            {"data": {"name": "a1f"}, "mark": {"type": "line", "color": "#ff0000", "strokeWidth": 9, "strokeCap": "round", "strokeJoin": "round"}, "encoding": {}}
          ]
        },
        {
          "title": "0.85 Å⁻¹", "width": 234, "height": 236,
          "encoding": {
            "x": {"field": "e", "type": "quantitative", "scale": {"domain": [-2.05, 10.54], "nice": false, "zero": false}, "axis": {"title": "Energy (meV)", "values": [0, 5, 10], "gridWidth": {"condition": {"test": "datum.value === 0", "value": 2}, "value": 1}}},
            "y": {"field": "i", "type": "quantitative", "scale": {"domain": [121, 352.6], "nice": false, "zero": false}, "axis": {"title": null, "values": [150, 200, 250, 300, 350]}}
          },
          "layer": [
            {"data": {"name": "a2d"}, "mark": {"type": "point", "filled": true, "size": 1024},
             "encoding": {
               "color": {"datum": "Data", "type": "nominal", "scale": {"domain": ["Data", "Starting Guess", "amoeba_[bumps]"], "range": ["#000000", "#5e8c6a", "#ff0000"]}},
               "shape": {"datum": "Data", "type": "nominal", "scale": {"domain": ["Data", "Starting Guess", "amoeba_[bumps]"], "range": ["M-0.22,-0.13L-0.13,-0.22L0,-0.09L0.13,-0.22L0.22,-0.13L0.09,0L0.22,0.13L0.13,0.22L0,0.09L-0.13,0.22L-0.22,0.13L-0.09,0Z", "M-1,-0.03L-0.19,-0.03L-0.19,0.03L-1,0.03ZM0.19,-0.03L1,-0.03L1,0.03L0.19,0.03ZM-0.19,0A0.19,0.19,0,1,1,0.19,0A0.19,0.19,0,1,1,-0.19,0Z", "M-1,-0.03L-0.19,-0.03L-0.19,0.03L-1,0.03ZM0.19,-0.03L1,-0.03L1,0.03L0.19,0.03ZM-0.19,0A0.19,0.19,0,1,1,0.19,0A0.19,0.19,0,1,1,-0.19,0Z"]}},
               "opacity": {"datum": "Data", "type": "nominal", "scale": {"domain": ["Data", "Starting Guess", "amoeba_[bumps]"], "range": [0.3, 1, 1]}}
             }},
            {"data": {"name": "a2g"}, "mark": {"type": "line", "color": "#5e8c6a", "strokeWidth": 7, "strokeCap": "round", "strokeJoin": "round"}, "encoding": {}},
            {"data": {"name": "a2f"}, "mark": {"type": "line", "color": "#ff0000", "strokeWidth": 9, "strokeCap": "round", "strokeJoin": "round"}, "encoding": {}}
          ]
        },
        {
          "title": "1.1 Å⁻¹", "width": 234, "height": 236,
          "encoding": {
            "x": {"field": "e", "type": "quantitative", "scale": {"domain": [-2.05, 10.54], "nice": false, "zero": false}, "axis": {"title": "Energy (meV)", "values": [0, 5, 10], "gridWidth": {"condition": {"test": "datum.value === 0", "value": 2}, "value": 1}}},
            "y": {"field": "i", "type": "quantitative", "scale": {"domain": [113.4, 418.5], "nice": false, "zero": false}, "axis": {"title": null, "values": [150, 200, 250, 300, 350, 400]}}
          },
          "layer": [
            {"data": {"name": "a3d"}, "mark": {"type": "point", "filled": true, "size": 1024},
             "encoding": {
               "color": {"datum": "Data", "type": "nominal", "scale": {"domain": ["Data", "Starting Guess", "amoeba_[bumps]"], "range": ["#000000", "#5e8c6a", "#ff0000"]}},
               "shape": {"datum": "Data", "type": "nominal", "scale": {"domain": ["Data", "Starting Guess", "amoeba_[bumps]"], "range": ["M-0.22,-0.13L-0.13,-0.22L0,-0.09L0.13,-0.22L0.22,-0.13L0.09,0L0.22,0.13L0.13,0.22L0,0.09L-0.13,0.22L-0.22,0.13L-0.09,0Z", "M-1,-0.03L-0.19,-0.03L-0.19,0.03L-1,0.03ZM0.19,-0.03L1,-0.03L1,0.03L0.19,0.03ZM-0.19,0A0.19,0.19,0,1,1,0.19,0A0.19,0.19,0,1,1,-0.19,0Z", "M-1,-0.03L-0.19,-0.03L-0.19,0.03L-1,0.03ZM0.19,-0.03L1,-0.03L1,0.03L0.19,0.03ZM-0.19,0A0.19,0.19,0,1,1,0.19,0A0.19,0.19,0,1,1,-0.19,0Z"]}},
               "opacity": {"datum": "Data", "type": "nominal", "scale": {"domain": ["Data", "Starting Guess", "amoeba_[bumps]"], "range": [0.3, 1, 1]}}
             }},
            {"data": {"name": "a3g"}, "mark": {"type": "line", "color": "#5e8c6a", "strokeWidth": 7, "strokeCap": "round", "strokeJoin": "round"}, "encoding": {}},
            {"data": {"name": "a3f"}, "mark": {"type": "line", "color": "#ff0000", "strokeWidth": 9, "strokeCap": "round", "strokeJoin": "round"}, "encoding": {}}
          ]
        },
        {
          "title": "1.35 Å⁻¹", "width": 234, "height": 236,
          "encoding": {
            "x": {"field": "e", "type": "quantitative", "scale": {"domain": [-2.05, 10.54], "nice": false, "zero": false}, "axis": {"title": "Energy (meV)", "values": [0, 5, 10], "gridWidth": {"condition": {"test": "datum.value === 0", "value": 2}, "value": 1}}},
            "y": {"field": "i", "type": "quantitative", "scale": {"domain": [116.4, 341], "nice": false, "zero": false}, "axis": {"title": null, "values": [150, 200, 250, 300]}}
          },
          "layer": [
            {"data": {"name": "a4d"}, "mark": {"type": "point", "filled": true, "size": 1024},
             "encoding": {
               "color": {"datum": "Data", "type": "nominal", "scale": {"domain": ["Data", "Starting Guess", "amoeba_[bumps]"], "range": ["#000000", "#5e8c6a", "#ff0000"]}},
               "shape": {"datum": "Data", "type": "nominal", "scale": {"domain": ["Data", "Starting Guess", "amoeba_[bumps]"], "range": ["M-0.22,-0.13L-0.13,-0.22L0,-0.09L0.13,-0.22L0.22,-0.13L0.09,0L0.22,0.13L0.13,0.22L0,0.09L-0.13,0.22L-0.22,0.13L-0.09,0Z", "M-1,-0.03L-0.19,-0.03L-0.19,0.03L-1,0.03ZM0.19,-0.03L1,-0.03L1,0.03L0.19,0.03ZM-0.19,0A0.19,0.19,0,1,1,0.19,0A0.19,0.19,0,1,1,-0.19,0Z", "M-1,-0.03L-0.19,-0.03L-0.19,0.03L-1,0.03ZM0.19,-0.03L1,-0.03L1,0.03L0.19,0.03ZM-0.19,0A0.19,0.19,0,1,1,0.19,0A0.19,0.19,0,1,1,-0.19,0Z"]}},
               "opacity": {"datum": "Data", "type": "nominal", "scale": {"domain": ["Data", "Starting Guess", "amoeba_[bumps]"], "range": [0.3, 1, 1]}}
             }},
            {"data": {"name": "a4g"}, "mark": {"type": "line", "color": "#5e8c6a", "strokeWidth": 7, "strokeCap": "round", "strokeJoin": "round"}, "encoding": {}},
            {"data": {"name": "a4f"}, "mark": {"type": "line", "color": "#ff0000", "strokeWidth": 9, "strokeCap": "round", "strokeJoin": "round"}, "encoding": {}}
          ]
        }
      ]
    },
    {
      "title": {"text": "CrCl2pym 2d subtracted", "anchor": "start", "fontSize": 19.6, "offset": 24, "dx": -23},
      "bounds": "flush",
      "spacing": 57,
      "hconcat": [
        {
          "title": "0.75 Å⁻¹", "width": 234, "height": 236,
          "encoding": {
            "x": {"field": "e", "type": "quantitative", "scale": {"domain": [-2.05, 10.54], "nice": false, "zero": false}, "axis": {"title": "Energy (meV)", "values": [0, 5, 10], "gridWidth": {"condition": {"test": "datum.value === 0", "value": 2}, "value": 1}}},
            "y": {"field": "i", "type": "quantitative", "scale": {"domain": [-12.8, 207.8], "nice": false, "zero": false}, "axis": {"title": "Intensity", "values": [0, 50, 100, 150, 200], "gridWidth": {"condition": {"test": "datum.value === 0", "value": 2}, "value": 1}}}
          },
          "layer": [
            {"data": {"name": "b1d"}, "mark": {"type": "point", "filled": true, "size": 1024},
             "encoding": {
               "color": {"datum": "Data", "type": "nominal", "scale": {"domain": ["Data", "Starting Guess", "leastsq_[lmfit]"], "range": ["#000000", "#5e8c6a", "#ff0000"]},
                 "legend": {"title": null, "orient": "none", "legendX": 485, "legendY": 308, "direction": "vertical", "rowPadding": 0, "symbolSize": 1024, "clipHeight": 31.6, "symbolStrokeWidth": 0}},
               "shape": {"datum": "Data", "type": "nominal", "scale": {"domain": ["Data", "Starting Guess", "leastsq_[lmfit]"], "range": ["M-0.22,-0.13L-0.13,-0.22L0,-0.09L0.13,-0.22L0.22,-0.13L0.09,0L0.22,0.13L0.13,0.22L0,0.09L-0.13,0.22L-0.22,0.13L-0.09,0Z", "M-1,-0.03L-0.19,-0.03L-0.19,0.03L-1,0.03ZM0.19,-0.03L1,-0.03L1,0.03L0.19,0.03ZM-0.19,0A0.19,0.19,0,1,1,0.19,0A0.19,0.19,0,1,1,-0.19,0Z", "M-1,-0.03L-0.19,-0.03L-0.19,0.03L-1,0.03ZM0.19,-0.03L1,-0.03L1,0.03L0.19,0.03ZM-0.19,0A0.19,0.19,0,1,1,0.19,0A0.19,0.19,0,1,1,-0.19,0Z"]},
                 "legend": {"title": null, "orient": "none", "legendX": 485, "legendY": 308, "direction": "vertical", "rowPadding": 0, "symbolSize": 1024, "clipHeight": 31.6, "symbolStrokeWidth": 0}},
               "opacity": {"datum": "Data", "type": "nominal", "scale": {"domain": ["Data", "Starting Guess", "leastsq_[lmfit]"], "range": [0.3, 1, 1]},
                 "legend": {"title": null, "orient": "none", "legendX": 485, "legendY": 308, "direction": "vertical", "rowPadding": 0, "symbolSize": 1024, "clipHeight": 31.6, "symbolStrokeWidth": 0}}
             }},
            {"data": {"name": "b1g"}, "mark": {"type": "line", "color": "#5e8c6a", "strokeWidth": 7, "strokeCap": "round", "strokeJoin": "round"}, "encoding": {}},
            {"data": {"name": "b1f"}, "mark": {"type": "line", "color": "#ff0000", "strokeWidth": 9, "strokeCap": "round", "strokeJoin": "round"}, "encoding": {}}
          ]
        },
        {
          "title": "0.85 Å⁻¹", "width": 234, "height": 236,
          "encoding": {
            "x": {"field": "e", "type": "quantitative", "scale": {"domain": [-2.05, 10.54], "nice": false, "zero": false}, "axis": {"title": "Energy (meV)", "values": [0, 5, 10], "gridWidth": {"condition": {"test": "datum.value === 0", "value": 2}, "value": 1}}},
            "y": {"field": "i", "type": "quantitative", "scale": {"domain": [-31.4, 215.7], "nice": false, "zero": false}, "axis": {"title": null, "values": [0, 50, 100, 150, 200], "gridWidth": {"condition": {"test": "datum.value === 0", "value": 2}, "value": 1}}}
          },
          "layer": [
            {"data": {"name": "b2d"}, "mark": {"type": "point", "filled": true, "size": 1024},
             "encoding": {
               "color": {"datum": "Data", "type": "nominal", "scale": {"domain": ["Data", "Starting Guess", "leastsq_[lmfit]"], "range": ["#000000", "#5e8c6a", "#ff0000"]}},
               "shape": {"datum": "Data", "type": "nominal", "scale": {"domain": ["Data", "Starting Guess", "leastsq_[lmfit]"], "range": ["M-0.22,-0.13L-0.13,-0.22L0,-0.09L0.13,-0.22L0.22,-0.13L0.09,0L0.22,0.13L0.13,0.22L0,0.09L-0.13,0.22L-0.22,0.13L-0.09,0Z", "M-1,-0.03L-0.19,-0.03L-0.19,0.03L-1,0.03ZM0.19,-0.03L1,-0.03L1,0.03L0.19,0.03ZM-0.19,0A0.19,0.19,0,1,1,0.19,0A0.19,0.19,0,1,1,-0.19,0Z", "M-1,-0.03L-0.19,-0.03L-0.19,0.03L-1,0.03ZM0.19,-0.03L1,-0.03L1,0.03L0.19,0.03ZM-0.19,0A0.19,0.19,0,1,1,0.19,0A0.19,0.19,0,1,1,-0.19,0Z"]}},
               "opacity": {"datum": "Data", "type": "nominal", "scale": {"domain": ["Data", "Starting Guess", "leastsq_[lmfit]"], "range": [0.3, 1, 1]}}
             }},
            {"data": {"name": "b2g"}, "mark": {"type": "line", "color": "#5e8c6a", "strokeWidth": 7, "strokeCap": "round", "strokeJoin": "round"}, "encoding": {}},
            {"data": {"name": "b2f"}, "mark": {"type": "line", "color": "#ff0000", "strokeWidth": 9, "strokeCap": "round", "strokeJoin": "round"}, "encoding": {}}
          ]
        },
        {
          "title": "1.1 Å⁻¹", "width": 234, "height": 236,
          "encoding": {
            "x": {"field": "e", "type": "quantitative", "scale": {"domain": [-2.05, 10.54], "nice": false, "zero": false}, "axis": {"title": "Energy (meV)", "values": [0, 5, 10], "gridWidth": {"condition": {"test": "datum.value === 0", "value": 2}, "value": 1}}},
            "y": {"field": "i", "type": "quantitative", "scale": {"domain": [-42.5, 264.3], "nice": false, "zero": false}, "axis": {"title": null, "values": [0, 50, 100, 150, 200, 250], "gridWidth": {"condition": {"test": "datum.value === 0", "value": 2}, "value": 1}}}
          },
          "layer": [
            {"data": {"name": "b3d"}, "mark": {"type": "point", "filled": true, "size": 1024},
             "encoding": {
               "color": {"datum": "Data", "type": "nominal", "scale": {"domain": ["Data", "Starting Guess", "leastsq_[lmfit]"], "range": ["#000000", "#5e8c6a", "#ff0000"]}},
               "shape": {"datum": "Data", "type": "nominal", "scale": {"domain": ["Data", "Starting Guess", "leastsq_[lmfit]"], "range": ["M-0.22,-0.13L-0.13,-0.22L0,-0.09L0.13,-0.22L0.22,-0.13L0.09,0L0.22,0.13L0.13,0.22L0,0.09L-0.13,0.22L-0.22,0.13L-0.09,0Z", "M-1,-0.03L-0.19,-0.03L-0.19,0.03L-1,0.03ZM0.19,-0.03L1,-0.03L1,0.03L0.19,0.03ZM-0.19,0A0.19,0.19,0,1,1,0.19,0A0.19,0.19,0,1,1,-0.19,0Z", "M-1,-0.03L-0.19,-0.03L-0.19,0.03L-1,0.03ZM0.19,-0.03L1,-0.03L1,0.03L0.19,0.03ZM-0.19,0A0.19,0.19,0,1,1,0.19,0A0.19,0.19,0,1,1,-0.19,0Z"]}},
               "opacity": {"datum": "Data", "type": "nominal", "scale": {"domain": ["Data", "Starting Guess", "leastsq_[lmfit]"], "range": [0.3, 1, 1]}}
             }},
            {"data": {"name": "b3g"}, "mark": {"type": "line", "color": "#5e8c6a", "strokeWidth": 7, "strokeCap": "round", "strokeJoin": "round"}, "encoding": {}},
            {"data": {"name": "b3f"}, "mark": {"type": "line", "color": "#ff0000", "strokeWidth": 9, "strokeCap": "round", "strokeJoin": "round"}, "encoding": {}}
          ]
        },
        {
          "title": "1.35 Å⁻¹", "width": 234, "height": 236,
          "encoding": {
            "x": {"field": "e", "type": "quantitative", "scale": {"domain": [-2.05, 10.54], "nice": false, "zero": false}, "axis": {"title": "Energy (meV)", "values": [0, 5, 10], "gridWidth": {"condition": {"test": "datum.value === 0", "value": 2}, "value": 1}}},
            "y": {"field": "i", "type": "quantitative", "scale": {"domain": [-18.7, 191.6], "nice": false, "zero": false}, "axis": {"title": null, "values": [0, 50, 100, 150], "gridWidth": {"condition": {"test": "datum.value === 0", "value": 2}, "value": 1}}}
          },
          "layer": [
            {"data": {"name": "b4d"}, "mark": {"type": "point", "filled": true, "size": 1024},
             "encoding": {
               "color": {"datum": "Data", "type": "nominal", "scale": {"domain": ["Data", "Starting Guess", "leastsq_[lmfit]"], "range": ["#000000", "#5e8c6a", "#ff0000"]}},
               "shape": {"datum": "Data", "type": "nominal", "scale": {"domain": ["Data", "Starting Guess", "leastsq_[lmfit]"], "range": ["M-0.22,-0.13L-0.13,-0.22L0,-0.09L0.13,-0.22L0.22,-0.13L0.09,0L0.22,0.13L0.13,0.22L0,0.09L-0.13,0.22L-0.22,0.13L-0.09,0Z", "M-1,-0.03L-0.19,-0.03L-0.19,0.03L-1,0.03ZM0.19,-0.03L1,-0.03L1,0.03L0.19,0.03ZM-0.19,0A0.19,0.19,0,1,1,0.19,0A0.19,0.19,0,1,1,-0.19,0Z", "M-1,-0.03L-0.19,-0.03L-0.19,0.03L-1,0.03ZM0.19,-0.03L1,-0.03L1,0.03L0.19,0.03ZM-0.19,0A0.19,0.19,0,1,1,0.19,0A0.19,0.19,0,1,1,-0.19,0Z"]}},
               "opacity": {"datum": "Data", "type": "nominal", "scale": {"domain": ["Data", "Starting Guess", "leastsq_[lmfit]"], "range": [0.3, 1, 1]}}
             }},
            {"data": {"name": "b4g"}, "mark": {"type": "line", "color": "#5e8c6a", "strokeWidth": 7, "strokeCap": "round", "strokeJoin": "round"}, "encoding": {}},
            {"data": {"name": "b4f"}, "mark": {"type": "line", "color": "#ff0000", "strokeWidth": 9, "strokeCap": "round", "strokeJoin": "round"}, "encoding": {}}
          ]
        }
      ]
    }
  ],
  "spacing": 41,
  "resolve": {
    "scale": {"color": "independent", "shape": "independent", "opacity": "independent"},
    "legend": {"color": "independent", "shape": "independent", "opacity": "independent"}
  }
}
